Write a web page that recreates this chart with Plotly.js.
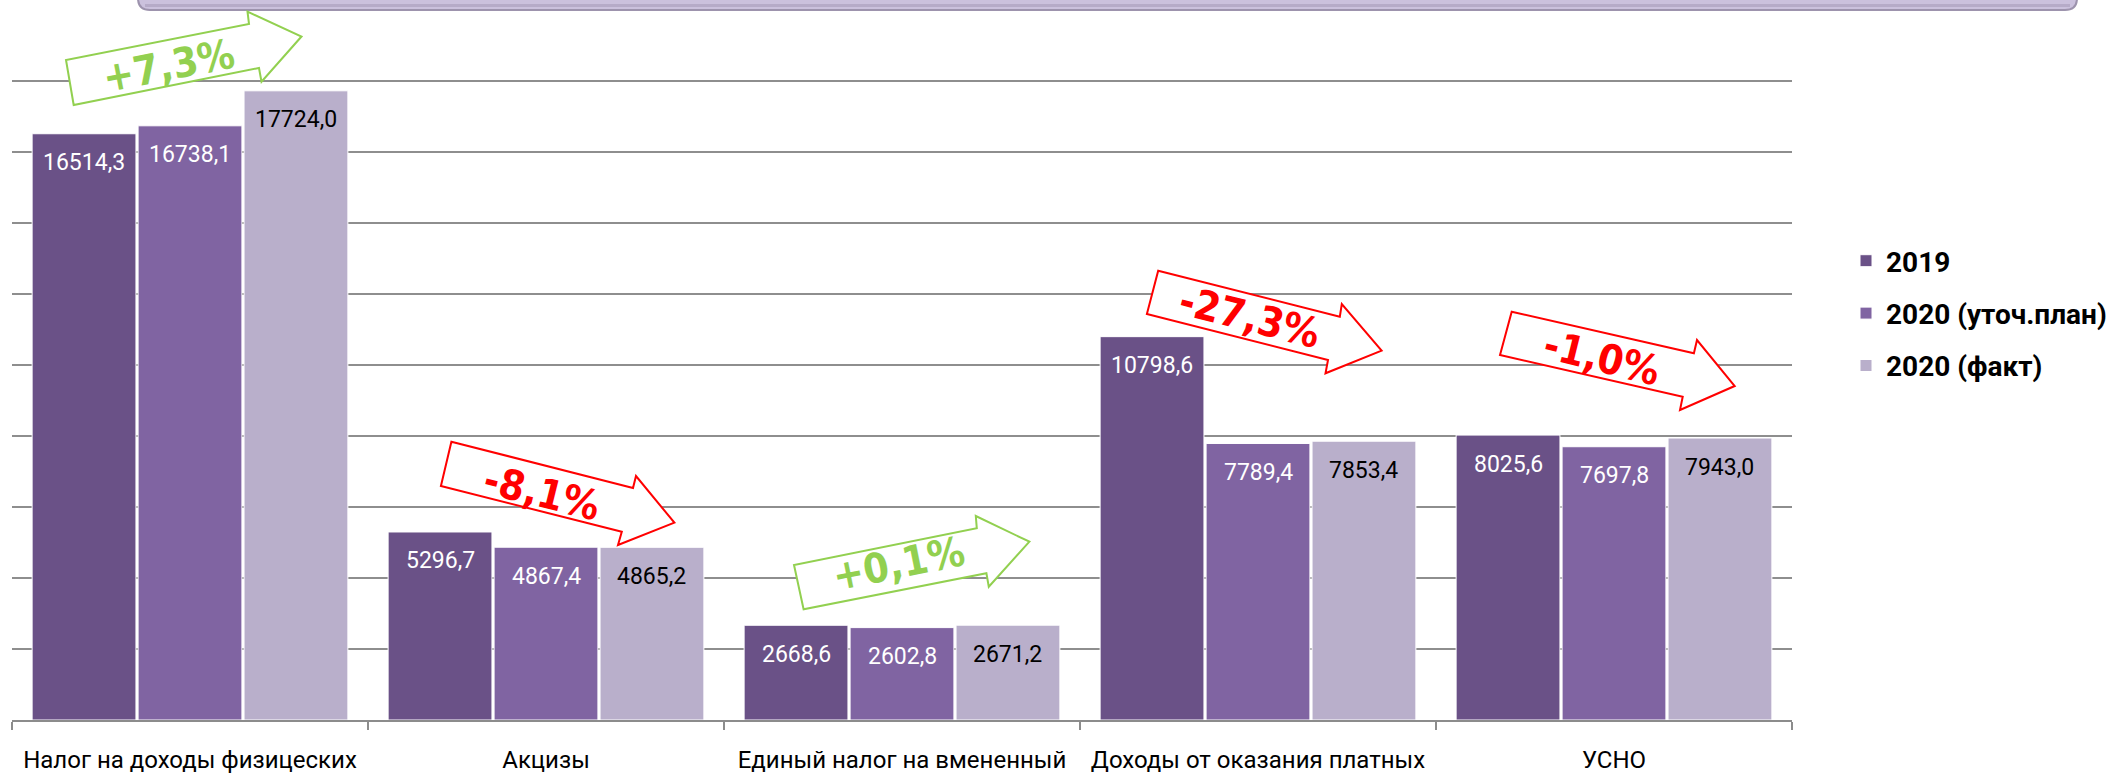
<!DOCTYPE html>
<html>
<head>
<meta charset="utf-8">
<script src="https://cdn.plot.ly/plotly-3.0.1.min.js"></script>
<style>
  html, body { margin: 0; padding: 0; background: #ffffff; }
  #chart { width: 2117px; height: 775px; }
</style>
</head>
<body>
<div id="chart"></div>
<script>
// ---- data ----
const categories = [
  'Налог на доходы физицеских',
  'Акцизы',
  'Единый налог на вмененный',
  'Доходы от оказания платных',
  'УСНО'
];
const seriesNames = ['2019', '2020 (уточ.план)', '2020 (факт)'];
const values2019 = [16514.3, 5296.7, 2668.6, 10798.6, 8025.6];
const valuesPlan2020 = [16738.1, 4867.4, 2602.8, 7789.4, 7697.8];
const valuesFact2020 = [17724.0, 4865.2, 2671.2, 7853.4, 7943.0];

// ---- styles ----
const barColors = ['#6a5187', '#8064a2', '#b9afcb'];
const labelColors = ['#ffffff', '#ffffff', '#000000'];
const W = 2117, H = 775;
const M = { l: 12, r: 325, t: 10, b: 55 };
const plotW = W - M.l - M.r, plotH = H - M.t - M.b;
const yMax = 20000;
const bargap = 0.107, bargroupgap = 0.02;
const mainFont = 'Roboto, "Liberation Sans", sans-serif';
const pctFont = '"DejaVu Sans Condensed", "Liberation Sans Narrow", Roboto, sans-serif';

const allSeries = [values2019, valuesPlan2020, valuesFact2020];
const fmt = v => v.toFixed(1).replace('.', ',');

const traces = allSeries.map((vals, i) => ({
  type: 'bar',
  name: seriesNames[i],
  legendgroup: 'g' + i,
  x: categories,
  y: vals,
  marker: { color: barColors[i], line: { color: '#ffffff', width: 1 } },
  hoverinfo: 'skip'
}));

// data labels (inside end)
const slot = (plotW / categories.length) * (1 - bargap) / allSeries.length;
const annotations = [];
allSeries.forEach((vals, i) => {
  vals.forEach((v, j) => {
    annotations.push({
      x: categories[j], y: v, xref: 'x', yref: 'y',
      xshift: (i - (allSeries.length - 1) / 2) * slot,
      yshift: -29, yanchor: 'middle', xanchor: 'center',
      text: fmt(v), showarrow: false,
      font: { family: mainFont, size: 23, color: labelColors[i] }
    });
  });
});

// change arrows (decoration), pixel geometry -> paper coords
const px = X => (X - M.l) / plotW;
const py = Y => (M.t + plotH - Y) / plotH;
const pathOf = pts => 'M' + pts.map(p => px(p[0]).toFixed(5) + ',' + py(p[1]).toFixed(5)).join(' L') + ' Z';

const arrowGeom = [
  { pts: [[73.7,105],[66,60],[249,24],[247.5,11.7],[301.5,36.5],[261.5,81.7],[259,68]], tx: 168, ty: 66, ang: -11 },
  { pts: [[451.4,441.7],[633,488],[636,476],[674.4,522.7],[618,545],[621.8,531.7],[440.9,486]], tx: 542, ty: 493, ang: 14 },
  { pts: [[803.6,609.3],[794,565],[976.8,528.3],[975.8,516],[1029.4,541.7],[988.8,586.7],[986.4,573.3]], tx: 898, ty: 564, ang: -11.4 },
  { pts: [[1158.2,270.7],[1339.8,316.7],[1341.8,304],[1381.6,350.7],[1325.5,373.3],[1328,360],[1146.9,314]], tx: 1249, ty: 317, ang: 14.2 },
  { pts: [[1511.7,311.7],[1693.9,353.3],[1697,340],[1734.7,386],[1680,410],[1682.7,396.7],[1500,355]], tx: 1602, ty: 358, ang: 14 }
];

const shapes = [];
// top banner
shapes.push({
  type: 'path', xref: 'paper', yref: 'paper', layer: 'above',
  path: 'M' + px(138) + ',' + py(-40) + ' L' + px(138) + ',' + py(-2) +
        ' Q' + px(138) + ',' + py(10) + ' ' + px(150) + ',' + py(10) +
        ' L' + px(2065) + ',' + py(10) +
        ' Q' + px(2077) + ',' + py(10) + ' ' + px(2077) + ',' + py(-2) +
        ' L' + px(2077) + ',' + py(-40) + ' Z',
  fillcolor: '#cbc1dd', line: { color: '#9d93ad', width: 2 }
});
shapes.push({
  type: 'line', xref: 'paper', yref: 'paper', layer: 'above',
  x0: px(145), x1: px(2070), y0: py(5.5), y1: py(5.5),
  line: { color: '#b6abc8', width: 3 }
});

categories.forEach((c, j) => {
  const base = values2019[j], fact = valuesFact2020[j];
  const pct = (fact / base - 1) * 100;
  const txt = (pct >= 0 ? '+' : '') + pct.toFixed(1).replace('.', ',') + '%';
  const col = pct >= 0 ? '#92d050' : '#ff0000';
  const g = arrowGeom[j];
  shapes.push({
    type: 'path', xref: 'paper', yref: 'paper', layer: 'above',
    path: pathOf(g.pts), fillcolor: '#ffffff', line: { color: col, width: 2 }
  });
  annotations.push({
    xref: 'paper', yref: 'paper', x: px(g.tx), y: py(g.ty),
    xanchor: 'center', yanchor: 'middle', showarrow: false,
    text: '<b>' + txt + '</b>', textangle: g.ang,
    font: { family: pctFont, size: 41, color: col }
  });
});

const layout = {
  width: W, height: H,
  margin: M,
  paper_bgcolor: '#ffffff', plot_bgcolor: '#ffffff',
  barmode: 'group', bargap: bargap, bargroupgap: bargroupgap,
  showlegend: true,
  legend: {
    xref: 'container', yref: 'container',
    x: 1846 / W, y: 1 - 236 / H, xanchor: 'left', yanchor: 'top',
    traceorder: 'grouped', tracegroupgap: 13,
    font: { family: mainFont, size: 28, weight: 700, color: '#000000' },
    bgcolor: 'rgba(0,0,0,0)'
  },
  xaxis: {
    type: 'category', tickson: 'boundaries', ticks: 'outside', ticklen: 8,
    tickwidth: 2, tickcolor: '#8c8c8c', showline: true, linecolor: '#8c8c8c',
    linewidth: 2, showgrid: false, ticklabelstandoff: 17,
    tickfont: { family: mainFont, size: 24, color: '#000000' },
    fixedrange: true
  },
  yaxis: {
    range: [0, yMax], dtick: 2000, showticklabels: false, ticks: '',
    showgrid: true, gridcolor: '#8e8e8e', gridwidth: 2, zeroline: false,
    showline: false, fixedrange: true
  },
  shapes: shapes,
  annotations: annotations
};

Plotly.newPlot('chart', traces, layout, { displayModeBar: false, staticPlot: true });
</script>
</body>
</html>
